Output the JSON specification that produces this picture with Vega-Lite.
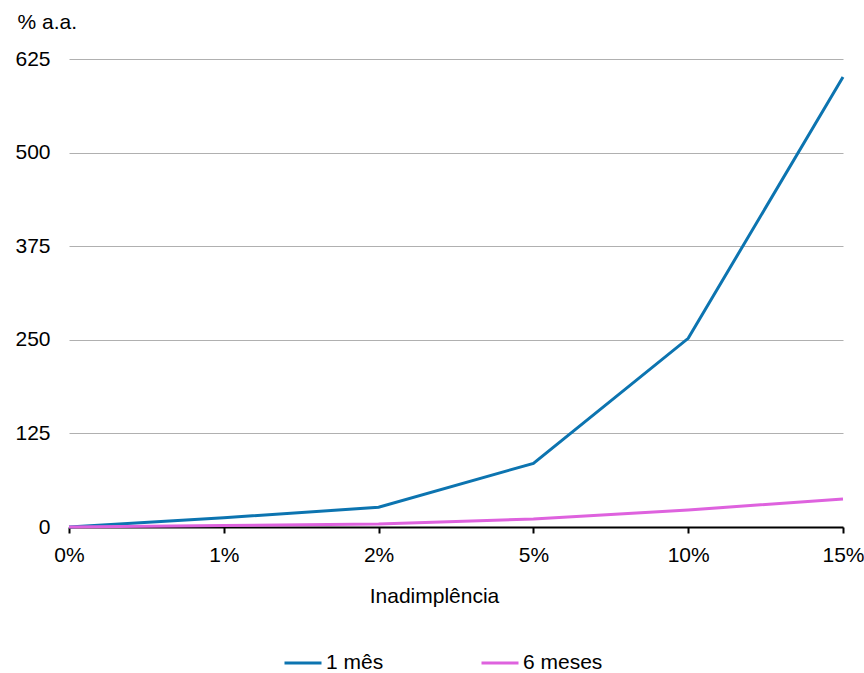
{
  "$schema": "https://vega.github.io/schema/vega-lite/v6.json",
  "width": 774,
  "height": 468,
  "autosize": {"type": "none"},
  "padding": {"left": 69, "top": 59, "right": 21, "bottom": 146},
  "background": "white",
  "config": {
    "font": "Liberation Sans",
    "view": {"stroke": null}
  },
  "data": {
    "values": [
      {"inad": "0%", "serie": "1 mês", "taxa": 0},
      {"inad": "1%", "serie": "1 mês", "taxa": 12.4},
      {"inad": "2%", "serie": "1 mês", "taxa": 26.3},
      {"inad": "5%", "serie": "1 mês", "taxa": 85},
      {"inad": "10%", "serie": "1 mês", "taxa": 252},
      {"inad": "15%", "serie": "1 mês", "taxa": 601},
      {"inad": "0%", "serie": "6 meses", "taxa": 0},
      {"inad": "1%", "serie": "6 meses", "taxa": 2},
      {"inad": "2%", "serie": "6 meses", "taxa": 4},
      {"inad": "5%", "serie": "6 meses", "taxa": 10.7},
      {"inad": "10%", "serie": "6 meses", "taxa": 22.7},
      {"inad": "15%", "serie": "6 meses", "taxa": 37.4}
    ]
  },
  "mark": {"type": "line", "strokeWidth": 3, "strokeCap": "butt", "strokeJoin": "miter"},
  "encoding": {
    "x": {
      "field": "inad",
      "type": "ordinal",
      "sort": ["0%", "1%", "2%", "5%", "10%", "15%"],
      "scale": {"type": "point", "padding": 0},
      "axis": {
        "title": "Inadimplência",
        "titleFont": "Liberation Sans",
        "titleFontSize": 21,
        "titleFontWeight": "normal",
        "titleColor": "#000",
        "titleX": 365,
        "titleY": 75,
        "titleAlign": "center",
        "titleBaseline": "alphabetic",
        "labelFontSize": 21,
        "labelColor": "#000",
        "labelPadding": 11,
        "labelAngle": 0,
        "domainColor": "#000",
        "domainWidth": 2,
        "tickColor": "#000",
        "tickWidth": 2,
        "tickSize": 6,
        "grid": false
      }
    },
    "y": {
      "field": "taxa",
      "type": "quantitative",
      "scale": {"domain": [0, 625], "nice": false},
      "axis": {
        "values": [0, 125, 250, 375, 500, 625],
        "title": "% a.a.",
        "titleFont": "Liberation Sans",
        "titleFontSize": 21,
        "titleFontWeight": "normal",
        "titleColor": "#000",
        "titleAngle": 0,
        "titleAlign": "left",
        "titleBaseline": "alphabetic",
        "titleX": -52,
        "titleY": -31,
        "labelFontSize": 21,
        "labelColor": "#000",
        "labelPadding": 19,
        "domain": false,
        "ticks": false,
        "grid": true,
        "gridColor": "#b0b0b0",
        "gridWidth": 1
      }
    },
    "color": {
      "field": "serie",
      "type": "nominal",
      "scale": {"domain": ["1 mês", "6 meses"], "range": ["#0C74B0", "#DE62DE"]},
      "legend": {
        "title": null,
        "orient": "none",
        "legendX": 214,
        "legendY": 584,
        "direction": "horizontal",
        "symbolType": "stroke",
        "symbolSize": 1369,
        "symbolStrokeWidth": 3,
        "labelFontSize": 21,
        "labelColor": "#000",
        "labelOffset": 3,
        "columnPadding": 91
      }
    }
  }
}
